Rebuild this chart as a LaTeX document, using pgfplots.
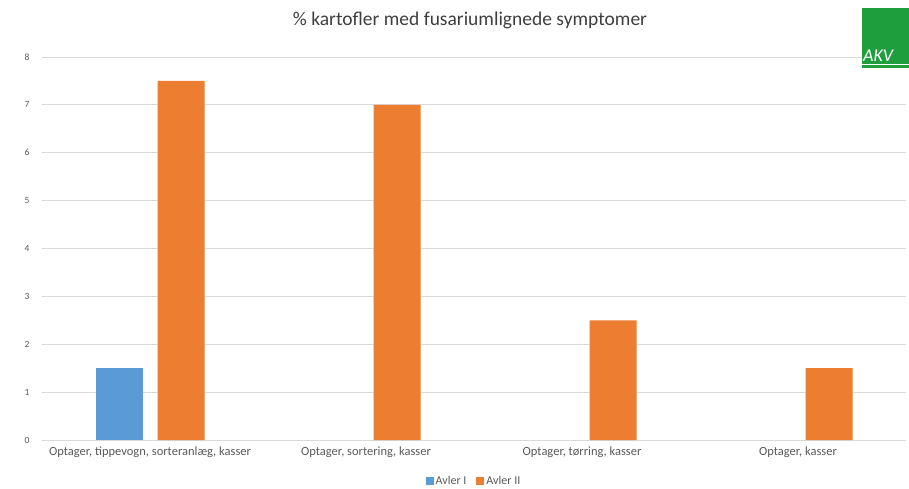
\documentclass[border=0pt]{standalone}
\usepackage{pgfplots}
\pgfplotsset{compat=1.18}
\usepackage{fontspec}
\setmainfont{Carlito}
\definecolor{cblue}{HTML}{5B9BD5}
\definecolor{corange}{HTML}{ED7D31}
\definecolor{cgrid}{HTML}{D9D9D9}
\definecolor{ctext}{HTML}{595959}
\definecolor{cgreen}{HTML}{1E9E3C}
\begin{document}
\begin{tikzpicture}
\path[use as bounding box] (-42pt,-48pt) rectangle (867pt,440pt);
\begin{axis}[
  at={(0pt,0pt)}, anchor=south west,
  scale only axis, width=864pt, height=383pt,
  xmin=-0.5, xmax=3.5, ymin=0, ymax=8,
  ytick={0,1,...,8},
  xtick={0,1,2,3},
  xticklabels={{Optager, tippevogn, sorteranlæg, kasser},{Optager, sortering, kasser},{Optager, tørring, kasser},{Optager, kasser}},
  axis line style={draw=none},
  major tick length=0pt,
  ymajorgrids, grid style={cgrid, line width=0.8pt},
  tick label style={ctext},
  yticklabel style={font=\fontsize{9.5}{10}\selectfont, xshift=-9pt},
  xticklabel style={font=\fontsize{12.5}{14}\selectfont, yshift=-3pt},
  /pgf/number format/assume math mode=true,
  ybar=15pt, bar width=47pt,
  legend style={at={(0.5,-48pt)}, anchor=south, yshift=-2pt, draw=none, font=\fontsize{12}{13}\selectfont\color{ctext}, legend columns=-1, /tikz/every even column/.append style={column sep=8pt}},
  legend image code/.code={\fill[#1] (0pt,-4pt) rectangle (8pt,4pt);},
  clip=false,
]
\addplot[fill=cblue, draw=none] coordinates {(0,1.5)};
\addplot[fill=corange, draw=none] coordinates {(0,7.5) (1,7) (2,2.5) (3,1.5)};
\legend{Avler I, Avler II}
\end{axis}
\node[font=\fontsize{19.5}{22}\selectfont, text=ctext!70!black] at (428pt,420pt) {\% kartofler med fusariumlignede symptomer};
\fill[cgreen] (820pt,372pt) rectangle (867pt,432pt);
\draw[white, line width=0.8pt] (820pt,376pt) -- (867pt,376pt);
\node[white, font=\fontsize{18}{18}\selectfont\itshape, anchor=south west, inner sep=0pt] at (821pt,378pt) {AKV};
\end{tikzpicture}
\end{document}
